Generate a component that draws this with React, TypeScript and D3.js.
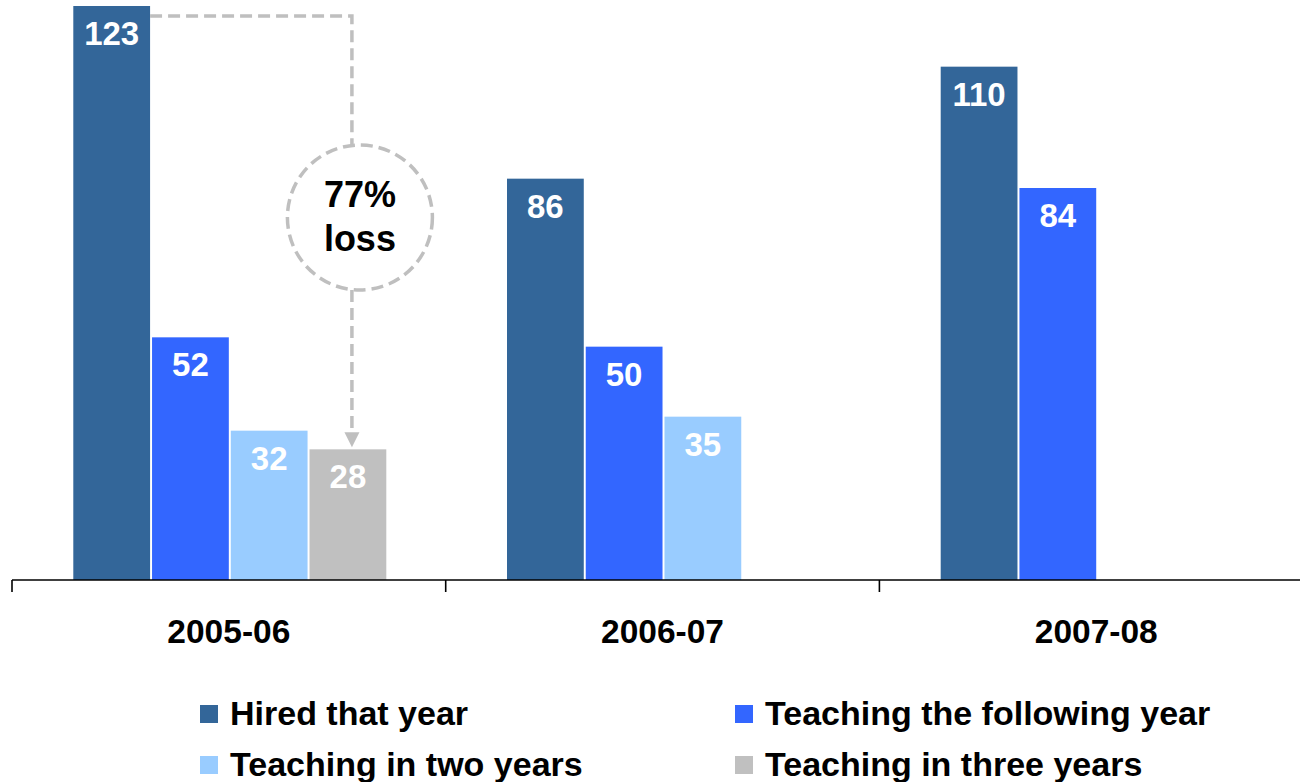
import React from "react";
import * as d3 from "d3";

const categories = ["2005-06", "2006-07", "2007-08"];
const seriesNames = [
  "Hired that year",
  "Teaching the following year",
  "Teaching in two years",
  "Teaching in three years",
];
const hiredThatYear = [123, 86, 110];
const teachingFollowing = [52, 50, 84];
const teachingTwoYears = [32, 35, null];
const teachingThreeYears = [28, null, null];
const seriesColors = ["#336699", "#3366FF", "#99CCFF", "#C0C0C0"];
const annotationLines = ["77%", "loss"];

const W = 1300;
const H = 782;
const FONT = "'Liberation Sans', Arial, sans-serif";

export default function App() {
  const seriesValues = [hiredThatYear, teachingFollowing, teachingTwoYears, teachingThreeYears];
  const baseY = 580;
  const y = d3.scaleLinear().domain([0, 123]).range([baseY, 6]);
  const x0 = d3.scaleBand<string>().domain(categories).range([12, 1313.1]);
  const x1 = d3
    .scaleBand<string>()
    .domain(seriesNames)
    .range([61.3, 374.3])
    .paddingInner(0.025);

  const bars: { x: number; y: number; w: number; h: number; c: string; v: number }[] = [];
  categories.forEach((cat, ci) => {
    seriesNames.forEach((s, si) => {
      const v = seriesValues[si][ci];
      if (v == null) return;
      bars.push({
        x: (x0(cat) as number) + (x1(s) as number),
        y: y(v),
        w: x1.bandwidth(),
        h: baseY - y(v),
        c: seriesColors[si],
        v,
      });
    });
  });

  // annotation geometry derived from the 2005-06 bars
  const firstCat = categories[0];
  const hiredBarRight = (x0(firstCat) as number) + (x1(seriesNames[0]) as number) + x1.bandwidth();
  const lastBarCenter =
    (x0(firstCat) as number) + (x1(seriesNames[3]) as number) + x1.bandwidth() / 2;
  const annoX = lastBarCenter + 4;
  const topY = y(hiredThatYear[0]) + 10;
  const circleCx = annoX + 8;
  const circleCy = 217.5;
  const r = 72.5;
  const arrowTip = y(teachingThreeYears[0] as number) - 2;
  const dashStyle = { stroke: "#BFBFBF", strokeWidth: 3.5, strokeDasharray: "12 6", fill: "none" };

  const tickXs = categories.map((c) => x0(c) as number);

  const legendPos = [
    [200, 705],
    [735, 705],
    [200, 756],
    [735, 756],
  ];

  return (
    <svg
      width={W}
      height={H}
      style={{ position: "absolute", left: 0, top: 0, background: "#fff" }}
      fontFamily={FONT}
    >
      <rect x={0} y={0} width={W} height={H} fill="#fff" />
      {bars.map((b, i) => (
        <g key={i}>
          <rect x={b.x} y={b.y} width={b.w} height={b.h} fill={b.c} />
          <text
            x={b.x + b.w / 2}
            y={b.y + 39}
            textAnchor="middle"
            fill="#fff"
            fontWeight="bold"
            fontSize={33}
          >
            {b.v}
          </text>
        </g>
      ))}

      {/* axis */}
      <line x1={12} x2={1300} y1={baseY} y2={baseY} stroke="#000" strokeWidth={1.6} />
      {tickXs.map((tx, i) => (
        <line key={i} x1={tx} x2={tx} y1={baseY} y2={baseY + 12} stroke="#000" strokeWidth={1.6} />
      ))}
      {categories.map((c) => (
        <text
          key={c}
          x={(x0(c) as number) + x0.bandwidth() / 2}
          y={643}
          textAnchor="middle"
          fontWeight="bold"
          fontSize={33.5}
          fill="#000"
        >
          {c}
        </text>
      ))}

      {/* annotation */}
      <path
        d={`M${hiredBarRight},${topY} H${annoX} V${circleCy - r}`}
        style={dashStyle}
      />
      <circle cx={circleCx} cy={circleCy} r={r} style={dashStyle} />
      <path d={`M${annoX},${circleCy + r} V${arrowTip - 15}`} style={dashStyle} />
      <polygon
        points={`${annoX - 7.5},${arrowTip - 15} ${annoX + 7.5},${arrowTip - 15} ${annoX},${arrowTip}`}
        fill="#BFBFBF"
      />
      {annotationLines.map((t, i) => (
        <text
          key={t}
          x={circleCx}
          y={207 + i * 43.5}
          textAnchor="middle"
          fontWeight="bold"
          fontSize={36}
          fill="#000"
        >
          {t}
        </text>
      ))}

      {/* legend */}
      {seriesNames.map((s, i) => (
        <g key={s} transform={`translate(${legendPos[i][0]},${legendPos[i][1]})`}>
          <rect x={0} y={0} width={18} height={18} fill={seriesColors[i]} />
          <text x={30} y={20} fontWeight="bold" fontSize={34} fill="#000">
            {s}
          </text>
        </g>
      ))}
    </svg>
  );
}
